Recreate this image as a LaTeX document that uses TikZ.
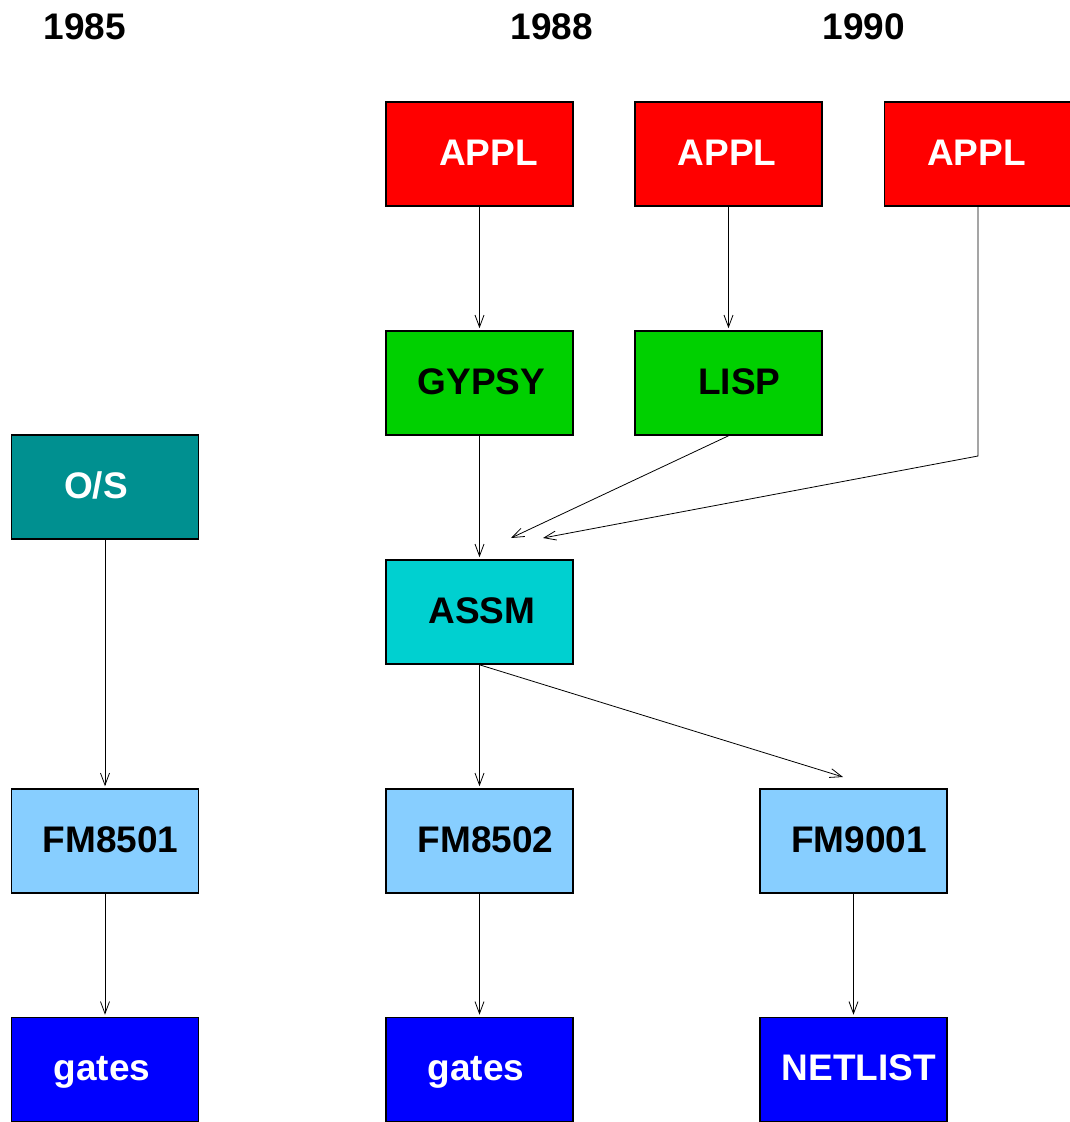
\documentclass[tikz,border=0pt]{standalone}
\usepackage{fontspec}
\setmainfont{Liberation Sans}
\usetikzlibrary{arrows.meta}
\definecolor{applred}{HTML}{FF0000}
\definecolor{langgreen}{HTML}{00D000}
\definecolor{osteal}{HTML}{009090}
\definecolor{assmcyan}{HTML}{00D0D0}
\definecolor{fmblue}{HTML}{87CEFF}
\definecolor{gateblue}{HTML}{0000FF}
\begin{document}
\begin{tikzpicture}[x=1pt, y=-1pt,
  box/.style={draw=black, line width=1.6pt, minimum width=187pt, minimum height=104pt,
    inner sep=0pt},
  lt/.style={font=\fontsize{37}{40}\selectfont\bfseries, inner sep=0pt,
    text height=27pt, text depth=0pt, yshift=2.5pt},
  year/.style={font=\fontsize{37}{40}\selectfont\bfseries},
  link/.style={line width=0.8pt, -{Straight Barb[length=12pt, width=9pt, line width=0.8pt]}}
]
\clip (0,0) rectangle (1070,1122);
\fill[white] (0,0) rectangle (1070,1122);

% year headings
\node[year] (y85) at (85,27) {1985};
\node[year] (y88) at (552,27) {1988};
\node[year] (y90) at (864,27) {1990};

% application layer
\node[box, fill=applred, label={[lt, text=white, xshift=9pt]center:APPL}] (appl1) at (479.5,154) {};
\node[box, fill=applred, label={[lt, text=white, xshift=-1.5pt]center:APPL}] (appl2) at (728.5,154) {};
\node[box, fill=applred, label={[lt, text=white, xshift=-1.5pt]center:APPL}] (appl3) at (978,154) {};

% language layer
\node[box, fill=langgreen, label={[lt, xshift=2pt]center:GYPSY}] (gypsy) at (479.5,383) {};
\node[box, fill=langgreen, label={[lt, xshift=11pt]center:LISP}] (lisp) at (728.5,383) {};

% operating system and assembler
\node[box, fill=osteal, label={[lt, text=white, xshift=-9pt]center:O/S}] (os) at (105,487) {};
\node[box, fill=assmcyan, label={[lt, xshift=2.5pt]center:ASSM}] (assm) at (479.5,612) {};

% microprocessors
\node[box, fill=fmblue, label={[lt, xshift=5.5pt]center:FM8501}] (fm1) at (105,841) {};
\node[box, fill=fmblue, label={[lt, xshift=6pt]center:FM8502}] (fm2) at (479.5,841) {};
\node[box, fill=fmblue, label={[lt, xshift=5.5pt]center:FM9001}] (fm3) at (853.5,841) {};

% hardware level
\node[box, fill=gateblue, label={[lt, text=white, xshift=-3pt]center:gates}] (g1) at (105,1069.5) {};
\node[box, fill=gateblue, label={[lt, text=white, xshift=-3.5pt]center:gates}] (g2) at (479.5,1069.5) {};
\node[box, fill=gateblue, label={[lt, text=white, xshift=5.5pt]center:NETLIST}] (net) at (853.5,1069.5) {};

% free ends of the converging connectors
\coordinate (lispend) at (511,538);
\coordinate (applbend) at (978,456);
\coordinate (applend) at (543,538);
\coordinate (fm3end) at (843,777);

% connectors
\draw[link, shorten >=2pt] (appl1.south) -- (gypsy.north);
\draw[link, shorten >=2pt] (appl2.south) -- (lisp.north);
\draw[link, shorten >=2pt] (gypsy.south) -- (assm.north);
\draw[link] (lisp.south) -- (lispend);
\draw[link] (appl3.south) -- (applbend) -- (applend);
\draw[link, shorten >=2pt] (os.south) -- (fm1.north);
\draw[link, shorten >=2pt] (assm.south) -- (fm2.north);
\draw[link] (assm.south) -- (fm3end);
\draw[link, shorten >=2pt] (fm1.south) -- (g1.north);
\draw[link, shorten >=2pt] (fm2.south) -- (g2.north);
\draw[link, shorten >=2pt] (fm3.south) -- (net.north);
\end{tikzpicture}
\end{document}
